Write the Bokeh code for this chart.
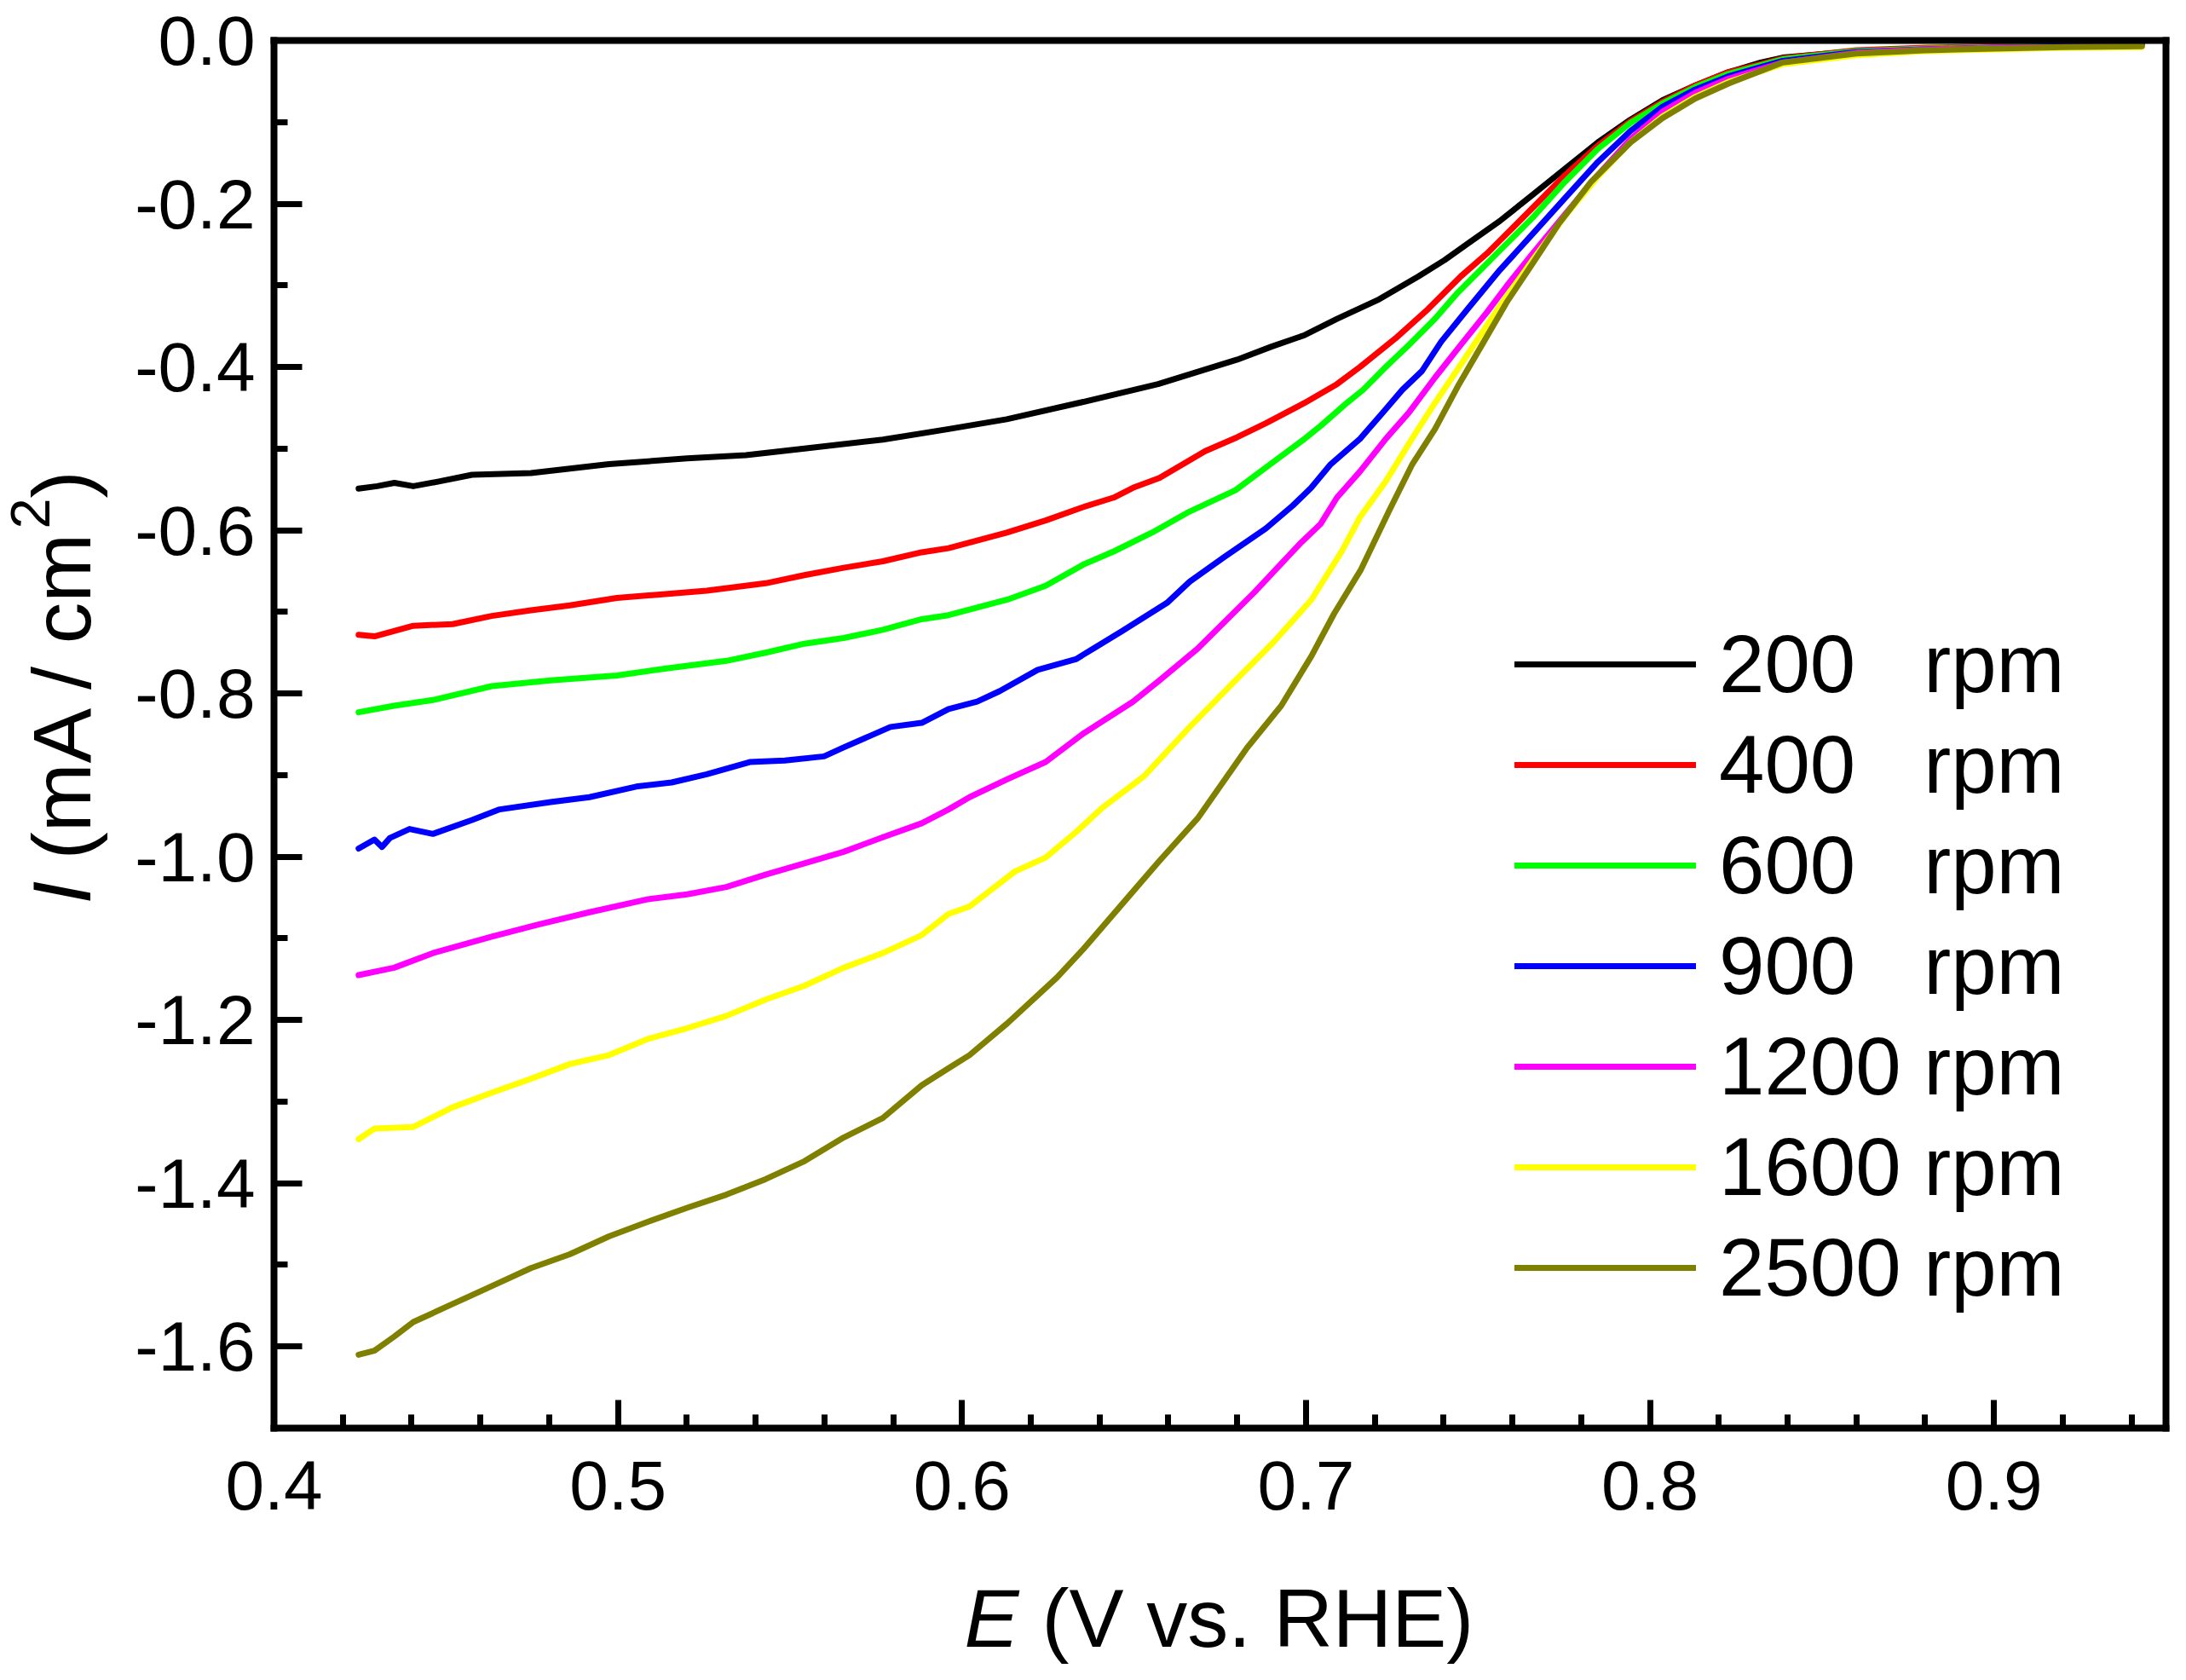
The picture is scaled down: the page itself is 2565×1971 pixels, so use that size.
from bokeh.plotting import figure
from bokeh.models import (Range1d, FixedTicker, PrintfTickFormatter, Legend, LegendItem,
                          Label, LinearAxis)
from bokeh.embed import file_html
from bokeh.resources import INLINE

FONT = "Liberation Sans"

# ---------------- data ----------------
labels = ["200\u00a0\u00a0\u00a0rpm", "400\u00a0\u00a0\u00a0rpm", "600\u00a0\u00a0\u00a0rpm",
          "900\u00a0\u00a0\u00a0rpm", "1200 rpm", "1600 rpm", "2500 rpm"]
colors = ["#000000", "#FF0000", "#00FF00", "#0000FF", "#FF00FF", "#FFFF00", "#808000"]

E_200 = [0.4246, 0.430, 0.435, 0.4405, 0.447, 0.4576, 0.4747, 0.4974, 0.5201, 0.5372, 0.5542, 0.5770,
         0.5961, 0.613, 0.635, 0.657, 0.680, 0.690, 0.6996, 0.709, 0.7213, 0.7327, 0.7403, 0.747,
         0.7564, 0.7659, 0.7753, 0.7848, 0.7943, 0.8037, 0.8132, 0.8227, 0.8322, 0.8386, 0.86, 0.88,
         0.90, 0.92, 0.943]
I_200 = [-0.549, -0.546, -0.542, -0.546, -0.541, -0.532, -0.530, -0.519, -0.512, -0.508, -0.500, -0.489,
         -0.476, -0.464, -0.443, -0.421, -0.391, -0.375, -0.361, -0.341, -0.317, -0.289, -0.269, -0.249,
         -0.221, -0.189, -0.157, -0.125, -0.097, -0.073, -0.055, -0.039, -0.027, -0.021, -0.013, -0.010,
         -0.008, -0.007, -0.006]

E_400 = [0.4246, 0.4292, 0.4405, 0.4519, 0.4633, 0.4747, 0.4860, 0.4997, 0.5145, 0.5258, 0.5429, 0.5542,
         0.5656, 0.5770, 0.5883, 0.5961, 0.613, 0.6243, 0.635, 0.6441, 0.6497, 0.6574, 0.6707, 0.680,
         0.6883, 0.6996, 0.709, 0.7157, 0.726, 0.7355, 0.745, 0.7526, 0.7564, 0.7659, 0.7753, 0.7848,
         0.7943, 0.8037, 0.8132, 0.8227, 0.8386, 0.86, 0.88, 0.90, 0.92, 0.943]
I_400 = [-0.728, -0.730, -0.717, -0.715, -0.705, -0.698, -0.692, -0.683, -0.678, -0.674, -0.665, -0.655,
         -0.646, -0.638, -0.627, -0.622, -0.603, -0.588, -0.572, -0.560, -0.548, -0.536, -0.503, -0.486,
         -0.469, -0.444, -0.421, -0.400, -0.365, -0.329, -0.289, -0.261, -0.245, -0.205, -0.165, -0.129,
         -0.099, -0.075, -0.055, -0.039, -0.022, -0.012, -0.009, -0.007, -0.006, -0.005]

E_600 = [0.4246, 0.4349, 0.4462, 0.4633, 0.4804, 0.4997, 0.5145, 0.5315, 0.5429, 0.5542, 0.5656, 0.5770,
         0.5883, 0.5961, 0.6132, 0.6243, 0.6353, 0.6441, 0.6552, 0.6662, 0.6795, 0.690, 0.6996, 0.7043,
         0.7119, 0.7166, 0.7232, 0.7299, 0.7375, 0.7441, 0.7517, 0.7564, 0.7659, 0.7753, 0.7848, 0.7943,
         0.8037, 0.8132, 0.8227, 0.8386, 0.86, 0.88, 0.90, 0.92, 0.943]
I_600 = [-0.823, -0.815, -0.808, -0.791, -0.784, -0.778, -0.769, -0.760, -0.750, -0.739, -0.732, -0.722,
         -0.709, -0.704, -0.685, -0.668, -0.642, -0.626, -0.603, -0.577, -0.551, -0.518, -0.488, -0.472,
         -0.444, -0.428, -0.400, -0.373, -0.341, -0.309, -0.277, -0.257, -0.217, -0.173, -0.133, -0.101,
         -0.077, -0.057, -0.041, -0.023, -0.013, -0.010, -0.008, -0.007, -0.006]

E_900 = [0.4246, 0.4292, 0.4314, 0.4337, 0.4394, 0.4462, 0.4576, 0.4656, 0.4804, 0.4917, 0.5053, 0.5156,
         0.5258, 0.5383, 0.5485, 0.5599, 0.5656, 0.5792, 0.5883, 0.5961, 0.6044, 0.6110, 0.6220, 0.6331,
         0.6464, 0.6596, 0.6662, 0.6762, 0.6883, 0.6961, 0.7015, 0.707, 0.7157, 0.7223, 0.7280, 0.7337,
         0.7393, 0.747, 0.7564, 0.7659, 0.7753, 0.7848, 0.7943, 0.8037, 0.8132, 0.8227, 0.8386, 0.86,
         0.88, 0.90, 0.92, 0.943]
I_900 = [-0.990, -0.979, -0.988, -0.977, -0.966, -0.972, -0.955, -0.942, -0.933, -0.927, -0.914, -0.909,
         -0.899, -0.884, -0.882, -0.877, -0.866, -0.841, -0.836, -0.819, -0.810, -0.797, -0.771, -0.758,
         -0.724, -0.689, -0.663, -0.633, -0.598, -0.570, -0.548, -0.520, -0.488, -0.456, -0.428, -0.405,
         -0.369, -0.329, -0.281, -0.237, -0.193, -0.149, -0.111, -0.081, -0.060, -0.044, -0.025, -0.014,
         -0.011, -0.009, -0.007, -0.006]

E_1200 = [0.4246, 0.4349, 0.4462, 0.4633, 0.4769, 0.4917, 0.5088, 0.5201, 0.5315, 0.5429, 0.5542, 0.5656,
          0.5770, 0.5883, 0.5961, 0.6022, 0.6132, 0.6243, 0.6353, 0.6497, 0.6574, 0.6685, 0.6850, 0.6986,
          0.7043, 0.709, 0.7157, 0.7232, 0.7299, 0.7375, 0.745, 0.7526, 0.7583, 0.7659, 0.7753, 0.7848,
          0.7943, 0.8037, 0.8132, 0.8227, 0.8386, 0.86, 0.88, 0.90, 0.92, 0.943]
I_1200 = [-1.145, -1.136, -1.118, -1.098, -1.083, -1.068, -1.052, -1.046, -1.037, -1.022, -1.008, -0.994,
          -0.976, -0.959, -0.942, -0.927, -0.905, -0.884, -0.849, -0.810, -0.784, -0.745, -0.676, -0.615,
          -0.592, -0.560, -0.528, -0.488, -0.456, -0.413, -0.373, -0.333, -0.301, -0.261, -0.213, -0.165,
          -0.121, -0.087, -0.064, -0.047, -0.027, -0.015, -0.011, -0.009, -0.008, -0.007]

E_1600 = [0.4246, 0.4292, 0.4405, 0.4519, 0.4633, 0.4747, 0.4860, 0.4974, 0.5088, 0.5201, 0.5315, 0.5429,
          0.5542, 0.5656, 0.5770, 0.5883, 0.5961, 0.6022, 0.6154, 0.6243, 0.6331, 0.6408, 0.6530, 0.6662,
          0.6795, 0.6906, 0.7016, 0.7105, 0.7157, 0.7232, 0.7308, 0.7375, 0.7431, 0.7488, 0.7564, 0.7659,
          0.7753, 0.7848, 0.7943, 0.8037, 0.8132, 0.8227, 0.8386, 0.86, 0.88, 0.90, 0.92, 0.943]
I_1600 = [-1.346, -1.333, -1.331, -1.307, -1.289, -1.272, -1.254, -1.243, -1.223, -1.210, -1.195, -1.175,
          -1.158, -1.136, -1.118, -1.096, -1.070, -1.061, -1.018, -1.001, -0.970, -0.940, -0.901, -0.841,
          -0.784, -0.737, -0.685, -0.625, -0.584, -0.540, -0.488, -0.444, -0.409, -0.373, -0.325, -0.269,
          -0.215, -0.167, -0.125, -0.093, -0.069, -0.051, -0.029, -0.018, -0.013, -0.011, -0.009, -0.008]

E_2500 = [0.4246, 0.4292, 0.4349, 0.4405, 0.4519, 0.4633, 0.4747, 0.4860, 0.4974, 0.5088, 0.5201, 0.5315,
          0.5429, 0.5542, 0.5656, 0.5770, 0.5883, 0.5961, 0.6022, 0.6132, 0.6276, 0.6353, 0.6486, 0.6574,
          0.6685, 0.6828, 0.6928, 0.7016, 0.7082, 0.7160, 0.7242, 0.7308, 0.7375, 0.7441, 0.7517, 0.7583,
          0.7659, 0.7734, 0.7829, 0.7943, 0.8037, 0.8132, 0.8227, 0.8386, 0.86, 0.88, 0.90, 0.92, 0.943]
I_2500 = [-1.610, -1.605, -1.588, -1.570, -1.548, -1.526, -1.504, -1.487, -1.465, -1.447, -1.430, -1.414,
          -1.395, -1.373, -1.344, -1.320, -1.280, -1.259, -1.243, -1.204, -1.148, -1.113, -1.048, -1.005,
          -0.953, -0.867, -0.815, -0.754, -0.702, -0.648, -0.576, -0.520, -0.476, -0.424, -0.369, -0.321,
          -0.273, -0.225, -0.173, -0.125, -0.095, -0.071, -0.053, -0.027, -0.016, -0.012, -0.010, -0.008,
          -0.007]

series_E = [E_200, E_400, E_600, E_900, E_1200, E_1600, E_2500]
series_I = [I_200, I_400, I_600, I_900, I_1200, I_1600, I_2500]

x_major = [0.4, 0.5, 0.6, 0.7, 0.8, 0.9]
x_minor = [0.42, 0.44, 0.46, 0.48, 0.52, 0.54, 0.56, 0.58, 0.62, 0.64, 0.66, 0.68,
           0.72, 0.74, 0.76, 0.78, 0.82, 0.84, 0.86, 0.88, 0.92, 0.94]
y_major = [-1.6, -1.4, -1.2, -1.0, -0.8, -0.6, -0.4, -0.2, 0.0]
y_minor = [-1.5, -1.3, -1.1, -0.9, -0.7, -0.5, -0.3, -0.1]

X_LO, X_HI = 0.4, 0.95      # plotted box
Y_LO, Y_HI = -1.7, 0.0

# ---------------- geometry ----------------
W, H = 2549, 1955
SH = 4                                                    # small downward shift (keeps "0.0" inside)
BOX_L, BOX_R, BOX_T, BOX_B = 321, 2541, 43 + SH, 1671 + SH  # box edges in canvas pixels
PX_X = (BOX_R - BOX_L) / (X_HI - X_LO)
PX_Y = (BOX_B - BOX_T) / (Y_HI - Y_LO)
x_range = Range1d(X_LO - BOX_L / PX_X, X_HI + (W - BOX_R) / PX_X)
y_range = Range1d(Y_LO - (H - BOX_B) / PX_Y, Y_HI + BOX_T / PX_Y)

def dx(px):   # canvas pixel x -> data x
    return X_LO + (px - BOX_L) / PX_X

def dy(py):   # canvas pixel y (from top, unshifted) -> data y
    return Y_HI - (py + SH - BOX_T) / PX_Y

p = figure(width=W, height=H, x_range=x_range, y_range=y_range, title=None,
           output_backend="svg", toolbar_location=None,
           x_axis_location=None, y_axis_location=None,
           min_border=0, min_border_left=0, min_border_right=0,
           min_border_top=0, min_border_bottom=0)
p.grid.visible = False
p.outline_line_color = None
p.background_fill_color = "white"
p.border_fill_color = "white"

def style_axis(ax, maj, mnr, standoff):
    ax.ticker = FixedTicker(ticks=maj, minor_ticks=mnr)
    ax.formatter = PrintfTickFormatter(format="%.1f")
    ax.axis_line_width = 8
    ax.axis_line_color = "black"
    ax.axis_line_cap = "square"
    ax.major_tick_line_width = 7
    ax.minor_tick_line_width = 7
    ax.major_tick_line_color = "black"
    ax.minor_tick_line_color = "black"
    ax.major_tick_in = 33
    ax.major_tick_out = 0
    ax.minor_tick_in = 16
    ax.minor_tick_out = 0
    ax.major_label_text_font = FONT
    ax.major_label_text_font_size = "82px"
    ax.major_label_text_color = "black"
    ax.major_label_standoff = standoff

xaxis = LinearAxis(fixed_location=Y_LO, bounds=(X_LO, X_HI))
style_axis(xaxis, x_major, x_minor, 38)
p.add_layout(xaxis, "below")

yaxis = LinearAxis(fixed_location=X_LO, bounds=(Y_LO, Y_HI))
style_axis(yaxis, y_major, y_minor, 22)
p.add_layout(yaxis, "left")

for loc, side, bnds in ((Y_HI, "above", (X_LO, X_HI)), (X_HI, "right", (Y_LO, Y_HI))):
    b = LinearAxis(fixed_location=loc, bounds=bnds, ticker=FixedTicker(ticks=[]),
                   axis_line_width=8, axis_line_color="black", axis_line_cap="square",
                   major_tick_in=0, major_tick_out=0, minor_tick_in=0, minor_tick_out=0,
                   major_label_text_font_size="0px")
    p.add_layout(b, side)

renderers = []
for E, I, c in zip(series_E, series_I, colors):
    r = p.line(E, I, line_color=c, line_width=7, line_join="round", line_cap="round")
    renderers.append(r)

legend = Legend(items=[LegendItem(label=l, renderers=[r]) for l, r in zip(labels, renderers)],
                location=(1777, 413 - SH), orientation="vertical",
                glyph_width=213, glyph_height=118, label_height=118, spacing=0,
                padding=0, margin=0, label_standoff=27,
                border_line_color=None, background_fill_alpha=0,
                label_text_font=FONT, label_text_font_size="96px", label_text_color="black")
p.add_layout(legend)

# axis titles: italic symbol + upright unit part, superscript 2 (positions through the data scales)
common = dict(x_units="data", y_units="data", text_font=FONT, text_color="black",
              text_align="left", text_baseline="alphabetic")
rot = dict(angle=90, angle_units="deg")
p.add_layout(Label(x=dx(72), y=dy(1056), text="I", text_font_size="97px",
                   text_font_style="italic", **rot, **common))
p.add_layout(Label(x=dx(72), y=dy(1004), text="(mA / cm", text_font_size="97px", **rot, **common))
p.add_layout(Label(x=dx(35), y=dy(616), text="2", text_font_size="65px", **rot, **common))
p.add_layout(Label(x=dx(72), y=dy(580), text=")", text_font_size="97px", **rot, **common))
p.add_layout(Label(x=dx(1131), y=dy(1894), text="E", text_font_size="96px",
                   text_font_style="italic", **common))
p.add_layout(Label(x=dx(1222), y=dy(1894), text="(V vs. RHE)", text_font_size="96px", **common))

open("out.html", "w").write(file_html(p, INLINE))
